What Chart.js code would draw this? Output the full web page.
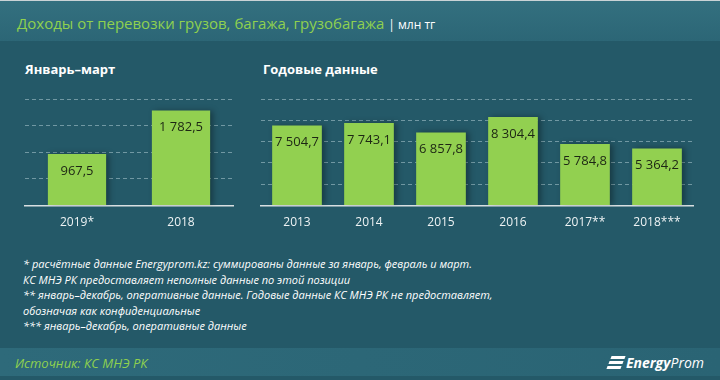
<!DOCTYPE html>
<html lang="ru">
<head>
<meta charset="utf-8">
<script src="https://cdn.jsdelivr.net/npm/chart.js@4"></script>
<style>
  html, body { margin: 0; padding: 0; }
  body { width: 720px; height: 380px; overflow: hidden; background: #245968; position: relative; font-family: 'Open Sans', sans-serif; }
  #head { position: absolute; left: 0; top: 0; width: 720px; height: 41px; background: linear-gradient(#33707f, #2c6676); border-top: 1px solid #c9d3d6; box-sizing: border-box; }
  #title { position: absolute; left: 17px; top: 12px; font-size: 15px; color: #8fd14f; white-space: nowrap; }
  #title span { color: #ffffff; font-size: 12px; }
  .panel { position: absolute; top: 60px; color: #ffffff; font-weight: bold; font-size: 13px; }
  .wrap { position: absolute; top: 90px; height: 160px; }
  #notes { position: absolute; left: 23px; top: 256px; font-style: italic; font-size: 11px; line-height: 15.5px; color: #ffffff; white-space: nowrap; }
  #foot { position: absolute; left: 0; top: 348px; width: 720px; height: 28px; background: linear-gradient(90deg, #2e6a7a, #2a6474); }
  #src { position: absolute; left: 15px; top: 6px; font-style: italic; font-size: 13px; color: #8fd14f; }
  #logo { position: absolute; right: 16px; top: 5px; color: #ffffff; font-style: italic; font-size: 14px; }
  #logo b { font-weight: bold; }
  .stripe { position: absolute; width: 14px; height: 3px; background: #ffffff; transform: skewX(-20deg); }
</style>
</head>
<body>
<div id="head"><div id="title">Доходы от перевозки грузов, багажа, грузобагажа <span>| млн тг</span></div></div>
<div class="panel" style="left:25px">Январь–март</div>
<div class="panel" style="left:263px">Годовые данные</div>
<div class="wrap" style="left:0; width:250px"><canvas id="quarter-chart"></canvas></div>
<div class="wrap" style="left:250px; width:470px"><canvas id="year-chart"></canvas></div>
<div id="notes">
  * расчётные данные Energyprom.kz: суммированы данные за январь, февраль и март.<br>
  КС МНЭ РК предоставляет неполные данные по этой позиции<br>
  ** январь–декабрь, оперативные данные. Годовые данные КС МНЭ РК не предоставляет,<br>
  обозначая как конфиденциальные<br>
  *** январь–декабрь, оперативные данные
</div>
<div id="foot">
  <div id="src">Источник: КС МНЭ РК</div>
  <div class="stripe" style="left:611px; top:8px"></div>
  <div class="stripe" style="left:609px; top:13px"></div>
  <div class="stripe" style="left:607px; top:18px"></div>
  <div id="logo"><b>Energy</b>Prom</div>
</div>
<script>
// data
const quarterLabels = ['2019*', '2018'];
const quarterValues = [967.5, 1782.5];
const quarterMax = 2000;
const quarterStep = 500;

const yearLabels = ['2013', '2014', '2015', '2016', '2017**', '2018***'];
const yearValues = [7504.7, 7743.1, 6857.8, 8304.4, 5784.8, 5364.2];
const yearMax = 10000;
const yearStep = 2000;

// 7504.7 -> "7 504,7"
function fmt(v) {
  const parts = v.toFixed(1).split('.');
  return parts[0].replace(/\B(?=(\d{3})+(?!\d))/g, ' ') + ',' + parts[1];
}

const barShadow = {
  id: 'barShadow',
  beforeDatasetsDraw(chart) {
    const ctx = chart.ctx;
    ctx.save();
    ctx.shadowColor = 'rgba(0, 0, 0, 0.35)';
    ctx.shadowBlur = 6;
    ctx.shadowOffsetX = 3;
  },
  afterDatasetsDraw(chart) {
    chart.ctx.restore();
  },
};

const valueLabels = {
  id: 'valueLabels',
  afterDatasetsDraw(chart) {
    const ctx = chart.ctx;
    const meta = chart.getDatasetMeta(0);
    ctx.save();
    ctx.font = '13px "Open Sans"';
    ctx.fillStyle = '#1d2614';
    ctx.textAlign = 'center';
    ctx.textBaseline = 'middle';
    meta.data.forEach((bar, i) => {
      ctx.fillText(fmt(chart.data.datasets[0].data[i]), bar.x, bar.y + 17);
    });
    ctx.restore();
  },
};

function makeConfig(labels, values, max, step, barPct, padLeft, padRight) {
  return {
    type: 'bar',
    data: {
      labels: labels,
      datasets: [
        {
          data: values,
          backgroundColor: '#92d050',
          borderWidth: 0,
          barPercentage: barPct,
          categoryPercentage: 1,
        },
      ],
    },
    options: {
      responsive: true,
      maintainAspectRatio: false,
      animation: false,
      layout: { padding: { left: padLeft, right: padRight, top: 9, bottom: 10 } },
      plugins: {
        legend: { display: false },
        tooltip: { enabled: false },
      },
      scales: {
        x: {
          grid: { display: false, drawTicks: false },
          border: { display: true, color: '#d8dfe1', width: 1.5 },
          ticks: { color: '#eef3f4', font: { family: 'Open Sans', size: 12 }, padding: 10 },
        },
        y: {
          min: 0,
          max: max,
          ticks: { display: false, stepSize: step },
          border: { display: false, dash: [4, 3] }, // dashed grid lines
          grid: {
            drawTicks: false,
            color: (c) => (c.tick && c.tick.value === 0 ? 'rgba(0,0,0,0)' : 'rgba(190, 215, 222, 0.5)'),
            lineWidth: 1,
          },
        },
      },
    },
    plugins: [barShadow, valueLabels],
  };
}

const quarterChart = document.querySelector('#quarter-chart');
new Chart(quarterChart, makeConfig(quarterLabels, quarterValues, quarterMax, quarterStep, 0.56, 25, 17));

const yearChart = document.querySelector('#year-chart');
new Chart(yearChart, makeConfig(yearLabels, yearValues, yearMax, yearStep, 0.69, 11, 27));
</script>
</body>
</html>
